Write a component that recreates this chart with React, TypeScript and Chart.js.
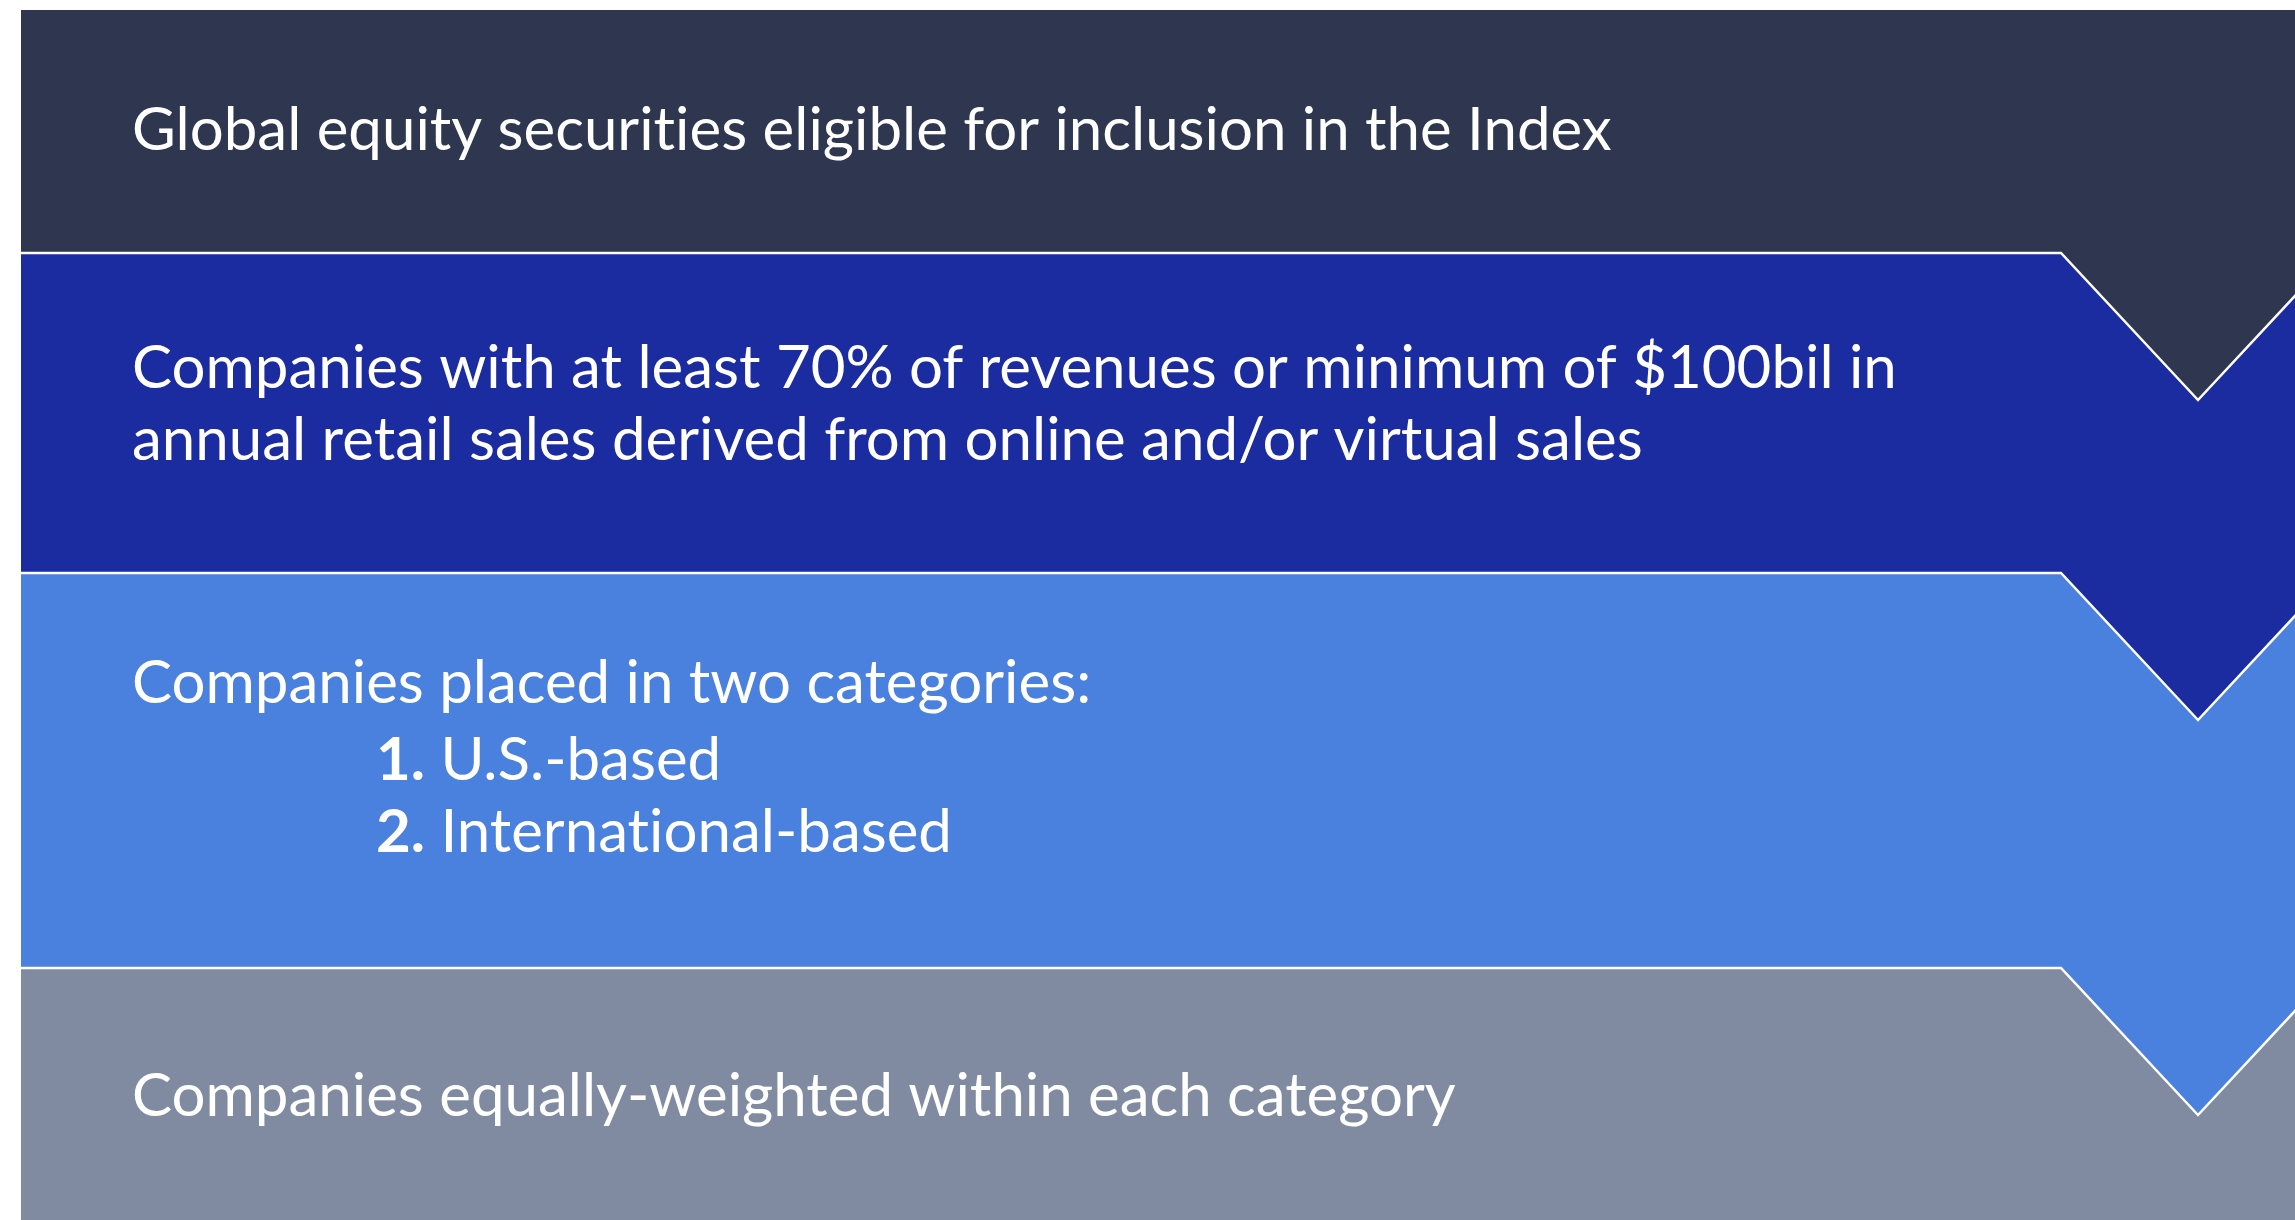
import React, { useEffect, useRef } from "react";
import { Chart, registerables } from "chart.js";

Chart.register(...registerables);

// ---- Content (data) ----
const stage1Lines = ["Global equity securities eligible for inclusion in the Index"];
const stage2Lines = [
  "Companies with at least 70% of revenues or minimum of $100bil in",
  "annual retail sales derived from online and/or virtual sales",
];
const stage3Lines = ["Companies placed in two categories:"];
const stage3Categories = ["U.S.-based", "International-based"];
const stage4Lines = ["Companies equally-weighted within each category"];
const stageColors = ["#2e3650", "#1b2ba0", "#4a80de", "#808ba2"];

// ---- Layout (diagram units map 1:1 to pixels) ----
const DIAGRAM_W = 2274;
const DIAGRAM_H = 1210;
const bandBottoms = [243, 563, 958, DIAGRAM_H];
const CHEVRON_START = 2040;
const CHEVRON_TIP = 2177;
const CHEVRON_DEPTH = 147;
const TEXT_X = 111;
const INDENT_X = 355;
const FONT_SIZE = 60;
const FONT_FAMILY = "Lato, 'Open Sans', sans-serif";
const stage1Baselines = [140];
const stage2Baselines = [378, 450];
const stage3Baselines = [693];
const stage3CategoryBaselines = [770, 842];
const stage4Baselines = [1106];

function boundaryPoints(i: number) {
  const y = bandBottoms[i];
  if (i === bandBottoms.length - 1) {
    return [
      { x: 0, y },
      { x: DIAGRAM_W, y },
    ];
  }
  return [
    { x: 0, y },
    { x: CHEVRON_START, y },
    { x: CHEVRON_TIP, y: y + CHEVRON_DEPTH },
    { x: 2 * CHEVRON_TIP - CHEVRON_START, y },
  ];
}

// avoid the font's discretionary "ti" ligature (the reference shows plain letters)
const noLig = (s: string) => s.replace(/t(?=i)/g, "t\u200C");

const textPlugin = {
  id: "stageText",
  afterDatasetsDraw(chart: any) {
    const ctx = chart.ctx as CanvasRenderingContext2D;
    const xs = chart.scales.x;
    const ys = chart.scales.y;
    ctx.save();
    ctx.fillStyle = "#ffffff";
    ctx.textBaseline = "alphabetic";
    ctx.textAlign = "left";
    const regular = `400 ${FONT_SIZE}px ${FONT_FAMILY}`;
    const bold = `700 ${FONT_SIZE}px ${FONT_FAMILY}`;
    const plain = (lines: string[], baselines: number[]) => {
      lines.forEach((t, k) => {
        ctx.font = regular;
        ctx.fillText(noLig(t), xs.getPixelForValue(TEXT_X), ys.getPixelForValue(baselines[k]));
      });
    };
    plain(stage1Lines, stage1Baselines);
    plain(stage2Lines, stage2Baselines);
    plain(stage3Lines, stage3Baselines);
    stage3Categories.forEach((t, k) => {
      const x0 = xs.getPixelForValue(INDENT_X);
      const y0 = ys.getPixelForValue(stage3CategoryBaselines[k]);
      const num = `${k + 1}.`;
      ctx.font = bold;
      ctx.fillText(num, x0, y0);
      const w = ctx.measureText(num).width;
      ctx.font = regular;
      ctx.fillText(noLig(" " + t), x0 + w, y0);
    });
    plain(stage4Lines, stage4Baselines);
    ctx.restore();
  },
};

export default function App() {
  const ref = useRef<HTMLCanvasElement | null>(null);
  useEffect(() => {
    if (!ref.current) return;
    const datasets = bandBottoms.map((_, i) => ({
      label: `Stage ${i + 1}`,
      data: boundaryPoints(i),
      backgroundColor: stageColors[i],
      borderColor: "#ffffff",
      borderWidth: i === bandBottoms.length - 1 ? 0 : 2.5,
      fill: { value: 0 },
      pointRadius: 0,
      tension: 0,
      borderJoinStyle: "miter" as const,
    }));
    const chart = new Chart(ref.current, {
      type: "line",
      data: { datasets },
      options: {
        animation: false,
        responsive: false,
        devicePixelRatio: 1,
        layout: { padding: { left: 21, top: 10, right: 0, bottom: 0 } },
        scales: {
          x: { type: "linear", min: 0, max: DIAGRAM_W, display: false },
          y: { type: "linear", min: 0, max: DIAGRAM_H, reverse: true, display: false },
        },
        plugins: { legend: { display: false }, tooltip: { enabled: false } },
        events: [],
      },
      plugins: [textPlugin],
    });
    if ((document as any).fonts && (document as any).fonts.load) {
      Promise.all([
        (document as any).fonts.load(`400 ${FONT_SIZE}px Lato`),
        (document as any).fonts.load(`700 ${FONT_SIZE}px Lato`),
      ]).then(() => chart.draw()).catch(() => {});
    }
    return () => chart.destroy();
  }, []);
  return (
    <div style={{ position: "fixed", left: 0, top: 0, width: 2295, height: 1220, background: "#ffffff" }}>
      <canvas ref={ref} width={2295} height={1220} style={{ display: "block", width: 2295, height: 1220 }} />
    </div>
  );
}
